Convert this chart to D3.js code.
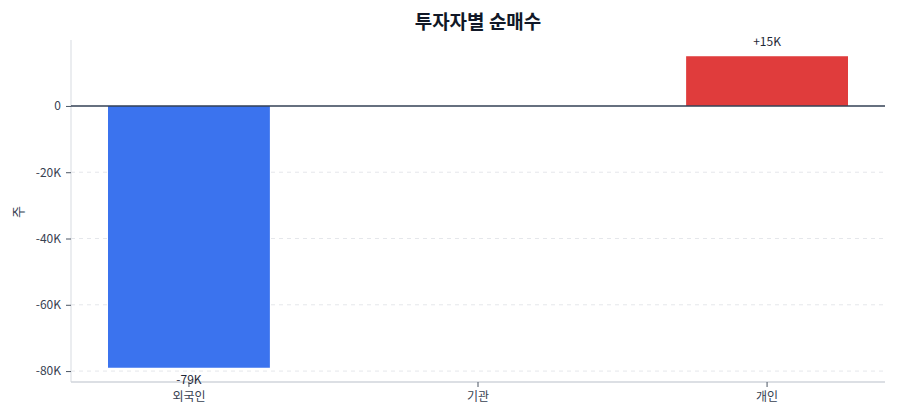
<!DOCTYPE html>
<html><head><meta charset="utf-8">
<script src="https://cdn.jsdelivr.net/npm/d3@7"></script>
<style>
html,body{margin:0;padding:0;background:#fff;}
svg{display:block;font-family:"Noto Sans CJK KR","Noto Sans",sans-serif;}
</style></head>
<body><svg id="c" width="900" height="420"></svg>
<script>
const categories = ["외국인", "기관", "개인"];
const values = [-79000, 0, 15000];
const labels = ["-79K", "", "+15K"];
const yTicks = [0, -20000, -40000, -60000, -80000];
const yTickLabels = ["0", "-20K", "-40K", "-60K", "-80K"];
const colors = ["#3b73ee", "#9ca3af", "#e03c3c"];
const title = "투자자별 순매수";
const yTitle = "주";

const svg = d3.select("#c");
const L = 71, R = 885, T = 40, B = 382;
const x = d3.scaleBand().domain(categories).range([L, R]).paddingInner(0.44).paddingOuter(0.128);
const y = d3.scaleLinear().domain([-83300, 19900]).range([B, T]);

// grid
svg.append("g").selectAll("line").data(yTicks.filter(d => d !== 0)).join("line")
  .attr("x1", L).attr("x2", R).attr("y1", d => y(d)).attr("y2", d => y(d))
  .attr("stroke", "#e5e7eb").attr("stroke-dasharray", "4,4").attr("stroke-width", 1);

// y axis
const yAxis = svg.append("g").attr("transform", `translate(${L},0)`)
  .call(d3.axisLeft(y).tickValues(yTicks).tickFormat((d, i) => yTickLabels[i]).tickSize(5).tickPadding(5));
yAxis.select(".domain").attr("stroke", "#e5e7eb").attr("stroke-width", 1.5).attr("d", `M0,${T}V${B}`);
yAxis.selectAll(".tick line").attr("stroke", "#4b5563");
yAxis.selectAll(".tick text").attr("fill", "#374151").attr("font-size", 12).attr("font-family", '"Noto Sans CJK KR","Noto Sans",sans-serif');

// x axis
const xAxis = svg.append("g").attr("transform", `translate(0,${B})`)
  .call(d3.axisBottom(x).tickSize(5).tickPadding(5));
xAxis.select(".domain").attr("stroke", "#d1d5db").attr("stroke-width", 1.5).attr("d", `M${L},0H${R}`);
xAxis.selectAll(".tick line").attr("stroke", "#4b5563");
xAxis.selectAll(".tick text").attr("fill", "#374151").attr("font-size", 12).attr("font-family", '"Noto Sans CJK KR","Noto Sans",sans-serif');

// bars
const data = categories.map((c, i) => ({c, v: values[i], l: labels[i], col: colors[i]}));
svg.append("g").selectAll("rect").data(data.filter(d => d.v !== 0)).join("rect")
  .attr("x", d => x(d.c)).attr("width", x.bandwidth())
  .attr("y", d => y(Math.max(0, d.v))).attr("height", d => Math.abs(y(d.v) - y(0)))
  .attr("fill", d => d.col);

// zero line
svg.append("line").attr("x1", L).attr("x2", R).attr("y1", y(0)).attr("y2", y(0))
  .attr("stroke", "#334155").attr("stroke-width", 1.5);

// value labels
svg.append("g").selectAll("text").data(data.filter(d => d.l)).join("text")
  .attr("x", d => x(d.c) + x.bandwidth() / 2)
  .attr("y", d => d.v >= 0 ? y(d.v) - 10 : y(d.v) + 16)
  .attr("text-anchor", "middle").attr("font-size", 12).attr("fill", "#1f2937")
  .text(d => d.l);

// title
svg.append("text").attr("x", 478).attr("y", 29).attr("text-anchor", "middle")
  .attr("font-size", 19).attr("font-weight", "bold").attr("fill", "#111827").text(title);

// y title
svg.append("text").attr("transform", `translate(23,${(T + B) / 2 + 1}) rotate(-90)`)
  .attr("text-anchor", "middle").attr("font-size", 13).attr("fill", "#374151").text(yTitle);
</script></body></html>
